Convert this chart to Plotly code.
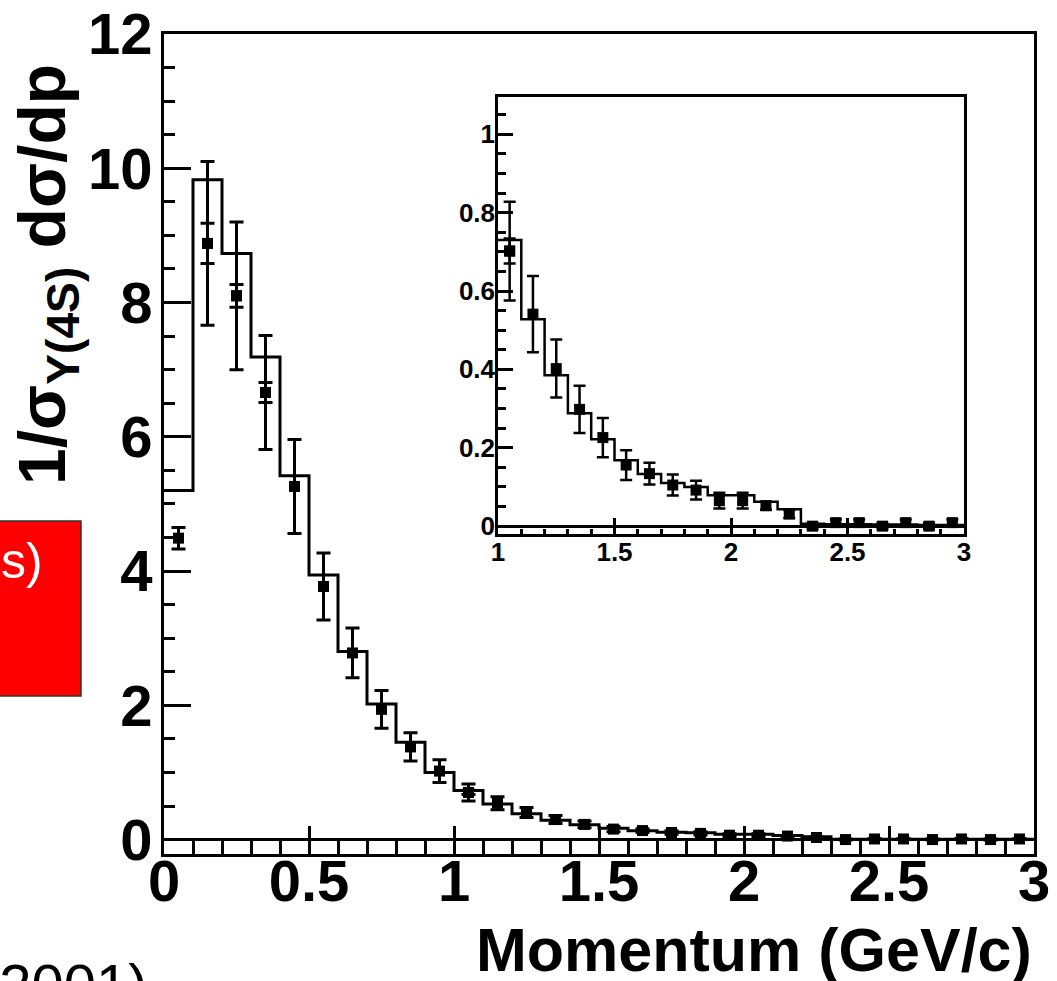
import plotly.graph_objects as go

# ---------------- data ----------------
bin_edges = [round(0.1 * i, 1) for i in range(31)]
bin_centers = [round(0.05 + 0.1 * i, 2) for i in range(30)]

# MC histogram (step outline)
mc_values = [5.20, 9.83, 8.73, 7.19, 5.42, 3.94, 2.80, 2.02, 1.45, 1.00,
             0.73, 0.528, 0.385, 0.288, 0.222, 0.168, 0.133, 0.110, 0.100, 0.079,
             0.079, 0.062, 0.043, 0.006, 0.005, 0.005, 0.004, 0.004, 0.003, 0.003]

# data points
data_values = [4.49, 8.88, 8.10, 6.66, 5.26, 3.77, 2.78, 1.94, 1.38, 1.02,
               0.702, 0.541, 0.402, 0.298, 0.226, 0.156, 0.134, 0.105, 0.092, 0.065,
               0.065, 0.052, 0.031, 0.0, 0.009, 0.009, 0.0, 0.009, 0.0, 0.009]
total_errors = [0.16, 1.22, 1.10, 0.85, 0.70, 0.50, 0.37, 0.28, 0.21, 0.17,
                0.126, 0.097, 0.074, 0.060, 0.050, 0.038, 0.028, 0.027, 0.024, 0.020,
                0.020, 0.010, 0.010, 0.008, 0.008, 0.008, 0.008, 0.008, 0.008, 0.008]
stat_errors = [None, 0.30, 0.17, 0.15, None, None, None, None, None, None,
               0.032, None, None, None, None, None, None, None, None, None,
               None, None, None, None, None, None, None, None, None, None]

main_xtick_vals = [0, 0.5, 1, 1.5, 2, 2.5, 3]
main_xtick_text = ["0", "0.5", "1", "1.5", "2", "2.5", "3"]
main_ytick_vals = [0, 2, 4, 6, 8, 10, 12]
main_ytick_text = ["0", "2", "4", "6", "8", "10", "12"]
inset_xtick_vals = [1, 1.5, 2, 2.5, 3]
inset_xtick_text = ["1", "1.5", "2", "2.5", "3"]
inset_ytick_vals = [0, 0.2, 0.4, 0.6, 0.8, 1]
inset_ytick_text = ["0", "0.2", "0.4", "0.6", "0.8", "1"]

x_title = "Momentum (GeV/c)"
y_title = "1/σ<sub>Υ(4S)</sub> dσ/dp"

# ---------------- layout helpers ----------------
W, H = 1057, 981
L, R, T, B = 164, 23, 34, 127
PW, PH = W - L - R, H - T - B


def px_x(p):
    return (p - L) / PW


def px_y(p):
    return (H - B - p) / PH


FONT = "Liberation Sans, Arial, sans-serif"

step_x = bin_edges
step_y = mc_values + [mc_values[-1]]

stat_idx = [i for i, e in enumerate(stat_errors) if e is not None]

fig = go.Figure()

# ---- main plot ----
fig.add_trace(go.Scatter(x=step_x, y=step_y, mode="lines", line_shape="hv",
                         line=dict(color="black", width=3),
                         xaxis="x", yaxis="y", hoverinfo="skip"))
fig.add_trace(go.Scatter(x=bin_centers, y=data_values, mode="markers",
                         marker=dict(symbol="square", size=11, color="black"),
                         error_y=dict(type="data", array=total_errors, visible=True,
                                      color="black", thickness=3, width=7),
                         xaxis="x", yaxis="y"))
fig.add_trace(go.Scatter(x=[bin_centers[i] for i in stat_idx],
                         y=[data_values[i] for i in stat_idx], mode="markers",
                         marker=dict(symbol="square", size=11, color="black"),
                         error_y=dict(type="data", array=[stat_errors[i] for i in stat_idx],
                                      visible=True, color="black", thickness=3, width=7),
                         xaxis="x", yaxis="y"))

# ---- inset ----
ins = [i for i, c in enumerate(bin_centers) if c >= 1]
ins_edges = [e for e in bin_edges if e >= 1]
ins_step_y = [mc_values[i] for i in ins] + [mc_values[-1]]
fig.add_trace(go.Scatter(x=ins_edges, y=ins_step_y, mode="lines", line_shape="hv",
                         line=dict(color="black", width=2.5),
                         xaxis="x2", yaxis="y2", hoverinfo="skip"))
fig.add_trace(go.Scatter(x=[bin_centers[i] for i in ins], y=[data_values[i] for i in ins],
                         mode="markers",
                         marker=dict(symbol="square", size=11, color="black"),
                         error_y=dict(type="data", array=[total_errors[i] for i in ins],
                                      visible=True, color="black", thickness=2.5, width=6),
                         xaxis="x2", yaxis="y2"))
ins_stat = [i for i in stat_idx if bin_centers[i] >= 1]
fig.add_trace(go.Scatter(x=[bin_centers[i] for i in ins_stat],
                         y=[data_values[i] for i in ins_stat], mode="markers",
                         marker=dict(symbol="square", size=11, color="black"),
                         error_y=dict(type="data", array=[stat_errors[i] for i in ins_stat],
                                      visible=True, color="black", thickness=2.5, width=6),
                         xaxis="x2", yaxis="y2"))

big_tick_font = dict(family=FONT, size=58, color="black", weight="bold")
small_tick_font = dict(family=FONT, size=26, color="black", weight="bold")

fig.update_layout(
    width=W, height=H,
    margin=dict(l=L, r=R, t=T, b=B, pad=0, autoexpand=False),
    paper_bgcolor="white", plot_bgcolor="white",
    showlegend=False,
    xaxis=dict(domain=[0, 1], range=[0, 3], anchor="y", automargin=False,
               showline=True, mirror=True, linecolor="black", linewidth=3,
               showgrid=False, zeroline=False,
               ticks="inside", ticklen=28, tickwidth=3, tickcolor="black",
               tickvals=main_xtick_vals, ticktext=main_xtick_text,
               tickfont=big_tick_font, ticklabelstandoff=-26,
               minor=dict(dtick=0.1, tick0=0, ticks="inside", ticklen=15,
                          tickwidth=3, tickcolor="black", showgrid=False)),
    yaxis=dict(domain=[0, 1], range=[-0.215, 12.0], anchor="x", automargin=False,
               showline=True, mirror=True, linecolor="black", linewidth=3,
               showgrid=False, zeroline=True, zerolinecolor="black", zerolinewidth=3,
               ticks="inside", ticklen=27, tickwidth=3, tickcolor="black",
               tickvals=main_ytick_vals, ticktext=main_ytick_text,
               tickfont=big_tick_font, ticklabelstandoff=-3,
               minor=dict(dtick=0.5, tick0=0, ticks="inside", ticklen=11,
                          tickwidth=3, tickcolor="black", showgrid=False)),
    xaxis2=dict(domain=[px_x(498), px_x(964)], range=[1, 3], anchor="y2", automargin=False,
                showline=True, mirror=True, linecolor="black", linewidth=2.5,
                showgrid=False, zeroline=False,
                ticks="inside", ticklen=16, tickwidth=2.5, tickcolor="black",
                tickvals=inset_xtick_vals, ticktext=inset_xtick_text,
                tickfont=small_tick_font, ticklabelstandoff=-7,
                minor=dict(dtick=0.1, tick0=1, ticks="inside", ticklen=5,
                           tickwidth=2.5, tickcolor="black", showgrid=False)),
    yaxis2=dict(domain=[px_y(534), px_y(97)], range=[-0.02, 1.095], anchor="x2",
                automargin=False,
                showline=True, mirror=True, linecolor="black", linewidth=2.5,
                showgrid=False, zeroline=True, zerolinecolor="black", zerolinewidth=2.5,
                ticks="inside", ticklen=15, tickwidth=2.5, tickcolor="black",
                tickvals=inset_ytick_vals, ticktext=inset_ytick_text,
                tickfont=small_tick_font, ticklabelstandoff=-5,
                minor=dict(dtick=0.05, tick0=0, ticks="inside", ticklen=8,
                           tickwidth=2.5, tickcolor="black", showgrid=False)),
    shapes=[
        dict(type="rect", xref="paper", yref="paper",
             x0=px_x(-5), x1=px_x(81), y0=px_y(696), y1=px_y(521),
             fillcolor="#ff0000", line=dict(color="#333333", width=1.5), layer="above"),
    ],
    annotations=[
        dict(text=x_title, xref="paper", yref="paper", x=px_x(1034), y=px_y(950),
             xanchor="right", yanchor="middle", showarrow=False,
             font=dict(family=FONT, size=61, color="black", weight="bold")),
        dict(text=y_title, xref="paper", yref="paper", x=px_x(47), y=px_y(275),
             xanchor="center", yanchor="middle", showarrow=False, textangle=-90,
             font=dict(family=FONT, size=66, color="black", weight="bold")),
        dict(text="s)", xref="paper", yref="paper", x=px_x(45), y=px_y(561),
             xanchor="right", yanchor="middle", showarrow=False,
             font=dict(family=FONT, size=50, color="white")),
        dict(text="(2001)", xref="paper", yref="paper", x=px_x(150), y=px_y(950),
             xanchor="right", yanchor="top", showarrow=False,
             font=dict(family=FONT, size=58, color="black")),
    ],
)

fig.write_html("out.html")
